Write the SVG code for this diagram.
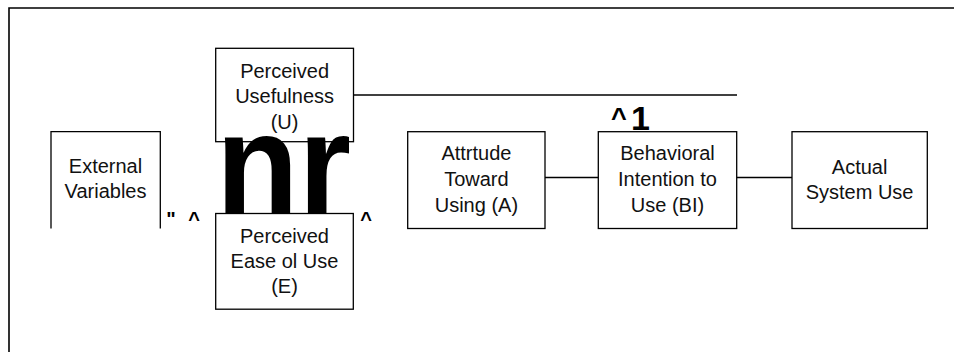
<svg xmlns="http://www.w3.org/2000/svg" width="954" height="352" viewBox="0 0 954 352">
  <style>
    .box { fill: #fff; stroke: #000; stroke-width: 1.3; }
    .open { fill: none; stroke: #000; stroke-width: 1.3; }
    .conn { fill: none; stroke: #000; stroke-width: 1.3; }
    .frame { fill: none; stroke: #000; stroke-width: 1.6; }
    .lbl { font-family: "Liberation Sans", Arial, sans-serif; font-size: 20px; fill: #111; text-anchor: middle; }
    .mark { font-family: "Liberation Sans", Arial, sans-serif; font-weight: bold; fill: #000; }
  </style>
  <rect width="954" height="352" fill="#fff"/>
  <path class="frame" d="M9,352 V8 H954"/>

  <g id="connectors">
    <line class="conn" x1="353.5" y1="95" x2="737" y2="95"/>
    <line class="conn" x1="545" y1="177.5" x2="598.3" y2="177.5"/>
    <line class="conn" x1="736.7" y1="177.5" x2="792" y2="177.5"/>
  </g>

  <g id="external-variables">
    <path class="open" d="M51,228.5 V131.7 H160.3 V228.5"/>
    <text class="lbl" x="105.5" y="173.3">External</text>
    <text class="lbl" x="105.5" y="197.7">Variables</text>
  </g>

  <g id="perceived-usefulness">
    <rect class="box" x="215.7" y="48.3" width="137.8" height="93.4"/>
    <text class="lbl" x="284.6" y="78.3">Perceived</text>
    <text class="lbl" x="284.6" y="103">Usefulness</text>
    <text class="lbl" x="284.6" y="129">(U)</text>
  </g>

  <g id="perceived-ease-of-use">
    <rect class="box" x="215.7" y="213.5" width="137.6" height="95.7"/>
    <text class="lbl" x="284.5" y="243">Perceived</text>
    <text class="lbl" x="284.5" y="267.5">Ease ol Use</text>
    <text class="lbl" x="284.5" y="293">(E)</text>
  </g>

  <g id="attitude">
    <rect class="box" x="407.7" y="131.7" width="137.3" height="96.8"/>
    <text class="lbl" x="476.4" y="160">Attrtude</text>
    <text class="lbl" x="476.4" y="186">Toward</text>
    <text class="lbl" x="476.4" y="211.5">Using (A)</text>
  </g>

  <g id="behavioral-intention">
    <rect class="box" x="598.3" y="131.7" width="138.4" height="96.8"/>
    <text class="lbl" x="667.5" y="160">Behavioral</text>
    <text class="lbl" x="667.5" y="186">Intention to</text>
    <text class="lbl" x="667.5" y="211.5">Use (BI)</text>
  </g>

  <g id="actual-system-use">
    <rect class="box" x="792" y="131.7" width="135.3" height="96.8"/>
    <text class="lbl" x="859.6" y="174">Actual</text>
    <text class="lbl" x="859.6" y="199">System Use</text>
  </g>

  <g id="marks">
    <text class="mark" x="216" y="213" font-size="143" textLength="135" lengthAdjust="spacingAndGlyphs">nr</text>
    <text class="mark" x="171" y="225.5" font-size="20" text-anchor="middle">"</text>
    <text class="mark" x="194" y="225.5" font-size="20" text-anchor="middle">^</text>
    <text class="mark" x="366" y="226" font-size="20" text-anchor="middle">^</text>
    <text class="mark" x="611" y="127" font-size="27">^<tspan x="631" y="130" font-size="34">1</tspan></text>
  </g>
</svg>
